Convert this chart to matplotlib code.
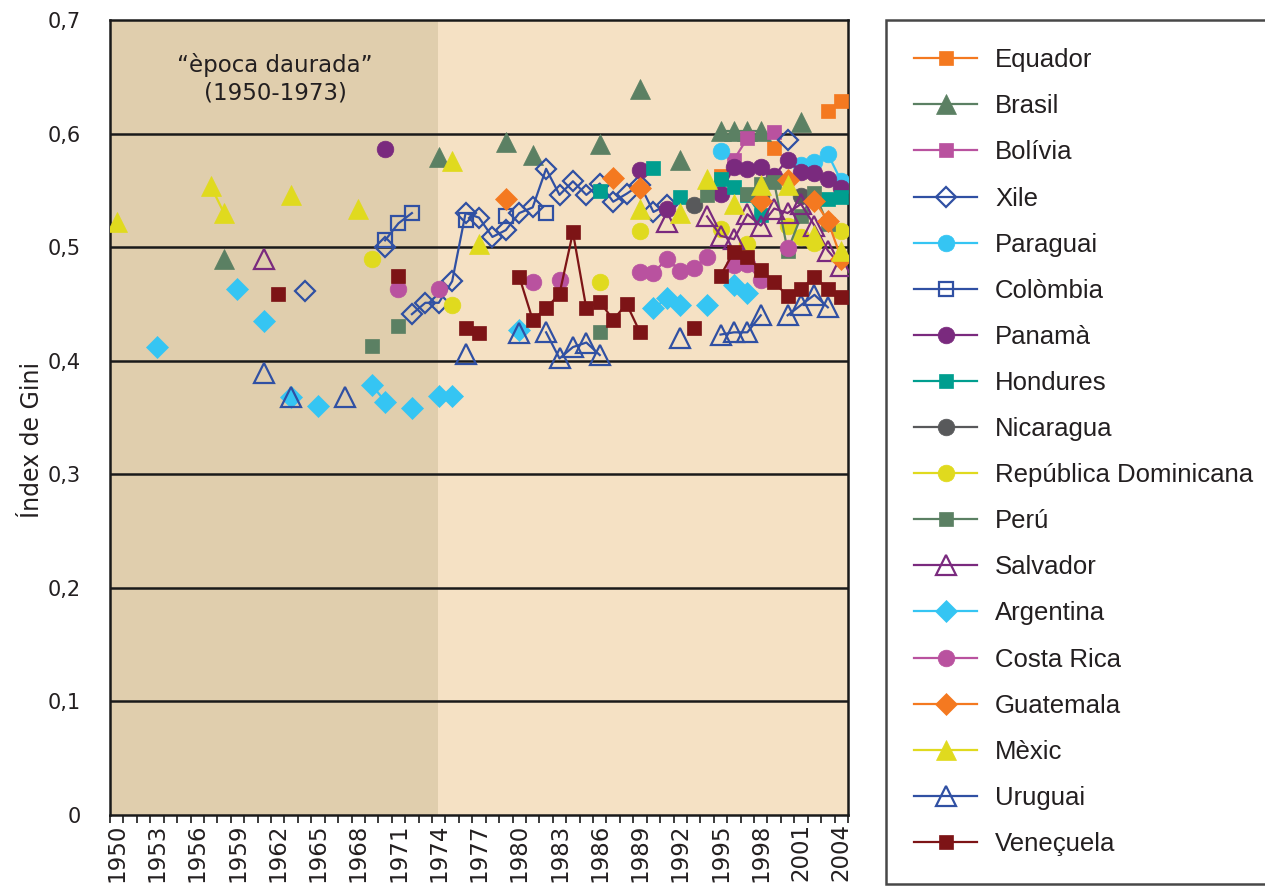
import numpy as np
import matplotlib
matplotlib.use("Agg")
import matplotlib.pyplot as plt

plt.rcParams['font.family'] = ['Liberation Sans', 'DejaVu Sans']

# ---------------- data ----------------
first_year = 1950
last_year = 2004
tick_years = list(range(1950, 2005, 3))
y_ticks = [0, 0.1, 0.2, 0.3, 0.4, 0.5, 0.6, 0.7]
y_tick_labels = ["0", "0,1", "0,2", "0,3", "0,4", "0,5", "0,6", "0,7"]

equador_years = [1995, 1999, 2003, 2004]
equador_vals = [0.563, 0.587, 0.620, 0.629]

brasil_years = [1958, 1974, 1979, 1981, 1986, 1989, 1992, 1995, 1996, 1997, 1998, 2001]
brasil_vals = [0.490, 0.579, 0.593, 0.581, 0.591, 0.639, 0.577, 0.602, 0.602, 0.602, 0.602, 0.610]

bolivia_years = [1996, 1997, 1999]
bolivia_vals = [0.577, 0.596, 0.601]

xile_years = [1964, 1970, 1972, 1973, 1974, 1975, 1976, 1977, 1978, 1979, 1980, 1981,
              1982, 1983, 1984, 1985, 1986, 1987, 1988, 1989, 1990, 1991, 2000]
xile_vals = [0.461, 0.500, 0.441, 0.451, 0.451, 0.470, 0.530, 0.526, 0.509, 0.515, 0.530, 0.535,
             0.569, 0.546, 0.558, 0.546, 0.556, 0.540, 0.547, 0.555, 0.531, 0.537, 0.594]

paraguai_years = [1995, 2001, 2002, 2003, 2004]
paraguai_vals = [0.585, 0.572, 0.575, 0.582, 0.558]

colombia_years = [1970, 1971, 1972, 1976, 1979, 1982]
colombia_vals = [0.506, 0.521, 0.530, 0.524, 0.527, 0.530]

panama_years = [1970, 1989, 1991, 1995, 1996, 1997, 1998, 1999, 2000, 2001, 2002, 2003, 2004]
panama_vals = [0.586, 0.568, 0.534, 0.547, 0.571, 0.569, 0.571, 0.563, 0.577, 0.566, 0.565, 0.560, 0.552]

hondures_years = [1986, 1990, 1992, 1995, 1996, 1997, 1998, 2003, 2004]
hondures_vals = [0.549, 0.570, 0.544, 0.560, 0.553, 0.546, 0.528, 0.542, 0.544]

nicaragua_years = [1993, 1998, 2001]
nicaragua_vals = [0.537, 0.545, 0.545]

repdom_years = [1969, 1975, 1986, 1989, 1995, 1997, 2000, 2001, 2002, 2004]
repdom_vals = [0.490, 0.449, 0.469, 0.514, 0.516, 0.503, 0.519, 0.509, 0.504, 0.514]

peru_years = [1969, 1971, 1986, 1994, 1997, 1998, 1999, 2000, 2001, 2002, 2003]
peru_vals = [0.413, 0.431, 0.425, 0.546, 0.547, 0.556, 0.557, 0.497, 0.527, 0.548, 0.520]

salvador_years = [1961, 1991, 1994, 1995, 1996, 1997, 1998, 1999, 2000, 2001, 2002, 2003, 2004]
salvador_vals = [0.490, 0.522, 0.527, 0.510, 0.507, 0.529, 0.519, 0.534, 0.530, 0.538, 0.519, 0.497, 0.483]

argentina_years = [1953, 1959, 1961, 1963, 1965, 1969, 1970, 1972, 1974, 1975, 1980,
                   1990, 1991, 1992, 1994, 1996, 1997]
argentina_vals = [0.412, 0.463, 0.435, 0.368, 0.360, 0.379, 0.364, 0.358, 0.369, 0.369, 0.427,
                  0.446, 0.455, 0.449, 0.449, 0.467, 0.460]

costarica_years = [1971, 1974, 1981, 1983, 1989, 1990, 1991, 1992, 1993, 1994, 1996, 1997, 1998, 2000]
costarica_vals = [0.463, 0.463, 0.469, 0.471, 0.478, 0.477, 0.490, 0.479, 0.482, 0.491, 0.484, 0.485, 0.471, 0.499]

guatemala_years = [1979, 1987, 1989, 1998, 2000, 2002, 2003, 2004]
guatemala_vals = [0.542, 0.561, 0.552, 0.541, 0.559, 0.541, 0.523, 0.490]

mexic_years = [1950, 1957, 1958, 1963, 1968, 1975, 1977, 1989, 1992, 1994, 1996, 1998, 2000, 2002, 2004]
mexic_vals = [0.522, 0.554, 0.530, 0.546, 0.534, 0.576, 0.503, 0.534, 0.530, 0.560, 0.538, 0.555, 0.555, 0.511, 0.497]

uruguai_years = [1961, 1963, 1967, 1976, 1980, 1982, 1983, 1984, 1985, 1986, 1992,
                 1995, 1996, 1997, 1998, 2000, 2001, 2002, 2003]
uruguai_vals = [0.389, 0.368, 0.368, 0.406, 0.424, 0.425, 0.402, 0.412, 0.416, 0.405, 0.420,
                0.423, 0.425, 0.425, 0.440, 0.440, 0.449, 0.458, 0.447]

venecuela_years = [1962, 1971, 1976, 1977, 1980, 1981, 1982, 1983, 1984, 1985, 1986, 1987, 1988, 1989,
                   1993, 1995, 1996, 1997, 1998, 1999, 2000, 2001, 2002, 2003, 2004]
venecuela_vals = [0.459, 0.475, 0.429, 0.424, 0.474, 0.436, 0.446, 0.459, 0.513, 0.446, 0.452, 0.436, 0.450, 0.425,
                  0.429, 0.475, 0.496, 0.491, 0.480, 0.469, 0.457, 0.463, 0.474, 0.463, 0.456]

# ---------------- styles ----------------
ORANGE = "#F47920"
GREEN = "#5B8063"
PINK = "#B9529F"
BLUE = "#3050A3"
CYAN = "#35C5F3"
PURPLE = "#7A2A7E"
TEAL = "#009E8F"
GREY = "#58595B"
YELLOW = "#E0DA1E"
DARKRED = "#7D1416"
TEXT = "#231F20"

# (label, years, values, marker, color, filled, markersize)
series = [
    ("Equador", equador_years, equador_vals, "s", ORANGE, True, 10),
    ("Brasil", brasil_years, brasil_vals, "^", GREEN, True, 15),
    ("Bolívia", bolivia_years, bolivia_vals, "s", PINK, True, 10),
    ("Xile", xile_years, xile_vals, "D", BLUE, False, 10.5),
    ("Paraguai", paraguai_years, paraguai_vals, "o", CYAN, True, 12),
    ("Colòmbia", colombia_years, colombia_vals, "s", BLUE, False, 10),
    ("Panamà", panama_years, panama_vals, "o", PURPLE, True, 12),
    ("Hondures", hondures_years, hondures_vals, "s", TEAL, True, 10),
    ("Nicaragua", nicaragua_years, nicaragua_vals, "o", GREY, True, 12),
    ("República Dominicana", repdom_years, repdom_vals, "o", YELLOW, True, 12),
    ("Perú", peru_years, peru_vals, "s", GREEN, True, 10),
    ("Salvador", salvador_years, salvador_vals, "^", PURPLE, False, 14),
    ("Argentina", argentina_years, argentina_vals, "D", CYAN, True, 11),
    ("Costa Rica", costarica_years, costarica_vals, "o", PINK, True, 12),
    ("Guatemala", guatemala_years, guatemala_vals, "D", ORANGE, True, 11),
    ("Mèxic", mexic_years, mexic_vals, "^", YELLOW, True, 15),
    ("Uruguai", uruguai_years, uruguai_vals, "^", BLUE, False, 14),
    ("Veneçuela", venecuela_years, venecuela_vals, "s", DARKRED, True, 10),
]


def with_gaps(years, vals):
    xs, ys = [], []
    for i, (yr, v) in enumerate(zip(years, vals)):
        if i > 0 and yr - years[i - 1] > 1:
            xs.append(np.nan)
            ys.append(np.nan)
        xs.append(yr - first_year)
        ys.append(v)
    return np.array(xs, dtype=float), np.array(ys, dtype=float)


fig = plt.figure(figsize=(12.65, 8.9), dpi=100)
ax = fig.add_axes([110 / 1265, 75 / 890, 738 / 1265, 795 / 890])

n_years = last_year - first_year + 1
ax.set_xlim(-0.5, n_years - 0.5)
ax.set_ylim(0, 0.7)

# backgrounds
ax.set_facecolor("#F5E1C4")
ax.axvspan(-0.5, 1974 - first_year - 0.05, color="#E0CEAD", zorder=0, lw=0)

# grid
for yv in y_ticks[1:-1]:
    ax.axhline(yv, color="#1a1a1a", lw=1.8, zorder=1)

handles = []
for label, yrs, vals, mk, col, filled, ms in series:
    xs, ys = with_gaps(yrs, vals)
    if filled:
        h, = ax.plot(xs, ys, color=col, lw=1.6, marker=mk, markersize=ms,
                     markerfacecolor=col, markeredgecolor=col, markeredgewidth=0.5,
                     label=label, zorder=3)
    else:
        h, = ax.plot(xs, ys, color=col, lw=1.6, marker=mk, markersize=ms,
                     markerfacecolor="none", markeredgecolor=col, markeredgewidth=1.6,
                     label=label, zorder=3)
    handles.append(h)

AXFONT = ['DejaVu Sans']

# axes formatting
ax.set_yticks(y_ticks)
ax.set_yticklabels(y_tick_labels, fontsize=15, family=AXFONT, color=TEXT)
ax.tick_params(axis="y", length=0, pad=21)

ax.set_xticks([y - first_year for y in tick_years])
ax.set_xticklabels([str(y) for y in tick_years], rotation=90, fontsize=16.5,
                   family=AXFONT, color=TEXT)
ax.tick_params(axis="x", which="major", length=0, pad=6)
ax.set_xticks(np.arange(-0.5, n_years, 1.0), minor=True)
ax.tick_params(axis="x", which="minor", length=6, width=1.2, color="#1a1a1a", direction="out")

for sp in ax.spines.values():
    sp.set_color("#1a1a1a")
    sp.set_linewidth(1.8)

ax.set_ylabel("Índex de Gini", fontsize=17, family=AXFONT, color=TEXT)
ax.yaxis.set_label_coords(-0.090, 0.472)

ax.text(0.2236, 0.926, "\u201cèpoca daurada\u201d\n(1950-1973)", transform=ax.transAxes,
        ha="center", va="center", fontsize=16.5, family=AXFONT, color=TEXT,
        linespacing=1.25)

leg = fig.legend(handles=handles, loc="upper left",
                 bbox_to_anchor=(886 / 1265, 1 - 20 / 890),
                 bbox_transform=fig.transFigure, fontsize=18.5, frameon=True,
                 fancybox=False, borderaxespad=0, borderpad=1.1,
                 handlelength=2.45, handletextpad=0.7, labelspacing=0.86)
leg.get_frame().set_edgecolor("#1a1a1a")
leg.get_frame().set_linewidth(1.8)
for t in leg.get_texts():
    t.set_color(TEXT)

fig.savefig("out.png", dpi=100, facecolor="white")
